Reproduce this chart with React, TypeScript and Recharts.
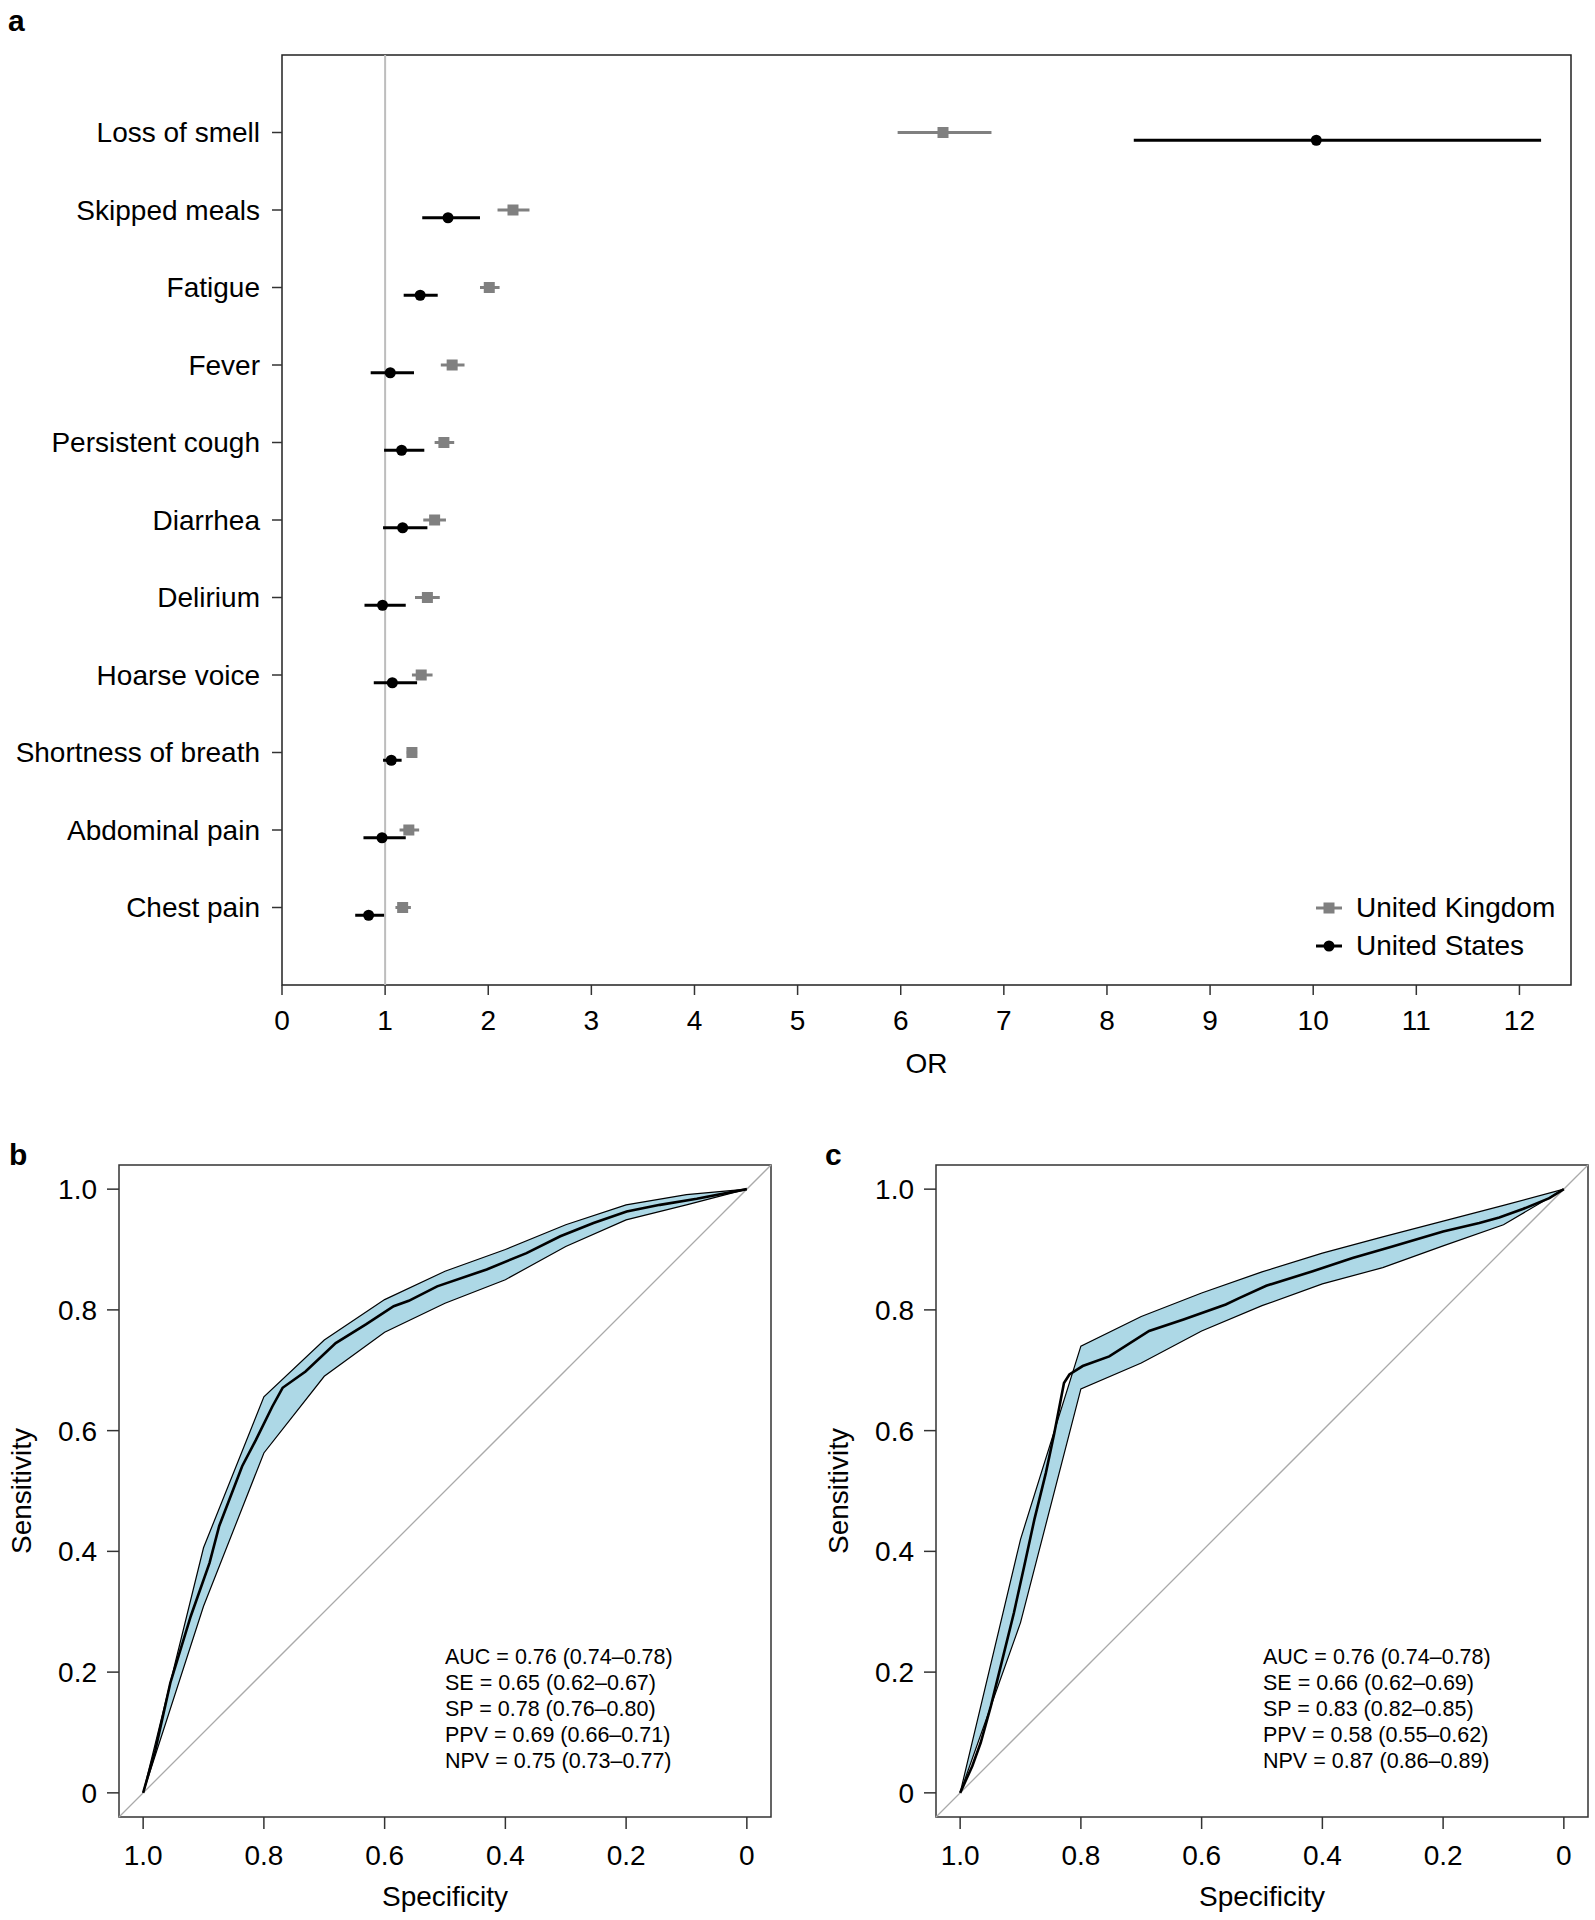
import React from "react";
import {
  ScatterChart,
  Scatter,
  ComposedChart,
  Area,
  Line,
  XAxis,
  YAxis,
  ErrorBar,
  ReferenceLine,
  ReferenceArea,
  Legend,
} from "recharts";

const FONT = '"Liberation Sans", Arial, Helvetica, sans-serif';

// ---- panel a: odds ratios per symptom ----
const symptoms = [
  "Loss of smell",
  "Skipped meals",
  "Fatigue",
  "Fever",
  "Persistent cough",
  "Diarrhea",
  "Delirium",
  "Hoarse voice",
  "Shortness of breath",
  "Abdominal pain",
  "Chest pain",
];

const ukOR = [6.41, 2.24, 2.01, 1.65, 1.57, 1.48, 1.41, 1.35, 1.26, 1.23, 1.17];
const ukLow = [5.97, 2.09, 1.92, 1.54, 1.48, 1.37, 1.29, 1.26, 1.21, 1.14, 1.1];
const ukHigh = [6.88, 2.4, 2.11, 1.77, 1.67, 1.59, 1.53, 1.46, 1.31, 1.33, 1.25];

const usOR = [10.03, 1.61, 1.34, 1.05, 1.16, 1.17, 0.975, 1.07, 1.06, 0.97, 0.84];
const usLow = [8.26, 1.36, 1.18, 0.86, 0.99, 0.98, 0.8, 0.89, 0.98, 0.79, 0.71];
const usHigh = [12.21, 1.92, 1.51, 1.28, 1.38, 1.41, 1.2, 1.31, 1.16, 1.2, 0.99];

const orTicks = [0, 1, 2, 3, 4, 5, 6, 7, 8, 9, 10, 11, 12];
const rowTicks = symptoms.map((_, i) => i + 1);
const US_SHIFT = 0.1; // US row drawn just under the UK row

// ---- panels b, c: ROC curves ----
const rocTicks = [0, 0.2, 0.4, 0.6, 0.8, 1.0];
const ciSpec = [1.0, 0.9, 0.8, 0.7, 0.6, 0.5, 0.4, 0.3, 0.2, 0.1, 0.0];

const bLow = [0, 0.309, 0.563, 0.69, 0.763, 0.811, 0.85, 0.905, 0.949, 0.974, 1];
const bHigh = [0, 0.406, 0.656, 0.75, 0.817, 0.864, 0.9, 0.941, 0.974, 0.991, 1];
const bSpec = [
  1.0, 0.98, 0.955, 0.921, 0.89, 0.874, 0.836, 0.813, 0.786, 0.769, 0.731, 0.681, 0.631,
  0.585, 0.56, 0.513, 0.431, 0.365, 0.309, 0.254, 0.199, 0.144, 0.083, 0.0,
];
const bSens = [
  0, 0.07, 0.182, 0.293, 0.381, 0.442, 0.541, 0.585, 0.64, 0.671, 0.698, 0.745, 0.776,
  0.806, 0.815, 0.839, 0.867, 0.894, 0.922, 0.944, 0.963, 0.974, 0.984, 1,
];
const bStats = [
  "AUC = 0.76 (0.74–0.78)",
  "SE = 0.65 (0.62–0.67)",
  "SP = 0.78 (0.76–0.80)",
  "PPV = 0.69 (0.66–0.71)",
  "NPV = 0.75 (0.73–0.77)",
];

const cLow = [0, 0.282, 0.669, 0.712, 0.765, 0.807, 0.843, 0.87, 0.906, 0.941, 1];
const cHigh = [0, 0.42, 0.74, 0.789, 0.828, 0.863, 0.894, 0.921, 0.947, 0.973, 1];
const cSpec = [
  1.0, 0.98, 0.966, 0.949, 0.93, 0.911, 0.894, 0.877, 0.858, 0.844, 0.828, 0.819, 0.797,
  0.753, 0.687, 0.63, 0.56, 0.537, 0.493, 0.416, 0.35, 0.284, 0.2, 0.14, 0.107, 0.068,
  0.024, 0.0,
];
const cSens = [
  0, 0.044, 0.083, 0.144, 0.221, 0.298, 0.375, 0.453, 0.53, 0.596, 0.679, 0.693, 0.707,
  0.723, 0.765, 0.784, 0.809, 0.82, 0.84, 0.864, 0.886, 0.905, 0.93, 0.944, 0.953, 0.967,
  0.985, 1,
];
const cStats = [
  "AUC = 0.76 (0.74–0.78)",
  "SE = 0.66 (0.62–0.69)",
  "SP = 0.83 (0.82–0.85)",
  "PPV = 0.58 (0.55–0.62)",
  "NPV = 0.87 (0.86–0.89)",
];

const UK_GREY = "#808080";

const Square = (p: any) => (
  <rect x={p.cx - 5.5} y={p.cy - 5.5} width={11} height={11} fill={UK_GREY} />
);
const Dot = (p: any) => <circle cx={p.cx} cy={p.cy} r={5.5} fill="#000" />;

function ForestLegend() {
  const rows = [
    { name: "United Kingdom", color: UK_GREY, square: true },
    { name: "United States", color: "#000", square: false },
  ];
  return (
    <div style={{ fontFamily: FONT, fontSize: 28, color: "#000" }}>
      {rows.map((r) => (
        <div key={r.name} style={{ display: "flex", alignItems: "center", height: 38 }}>
          <svg width={42} height={38}>
            <line x1={2} x2={28} y1={19} y2={19} stroke={r.color} strokeWidth={3} />
            {r.square ? (
              <rect x={9.5} y={13.5} width={11} height={11} fill={r.color} />
            ) : (
              <circle cx={15} cy={19} r={5.5} fill={r.color} />
            )}
          </svg>
          <span>{r.name}</span>
        </div>
      ))}
    </div>
  );
}

function ForestPlot() {
  const uk = symptoms.map((s, i) => ({
    name: s,
    or: ukOR[i],
    pos: i + 1,
    err: [ukOR[i] - ukLow[i], ukHigh[i] - ukOR[i]],
  }));
  const us = symptoms.map((s, i) => ({
    name: s,
    or: usOR[i],
    pos: i + 1 + US_SHIFT,
    err: [usOR[i] - usLow[i], usHigh[i] - usOR[i]],
  }));
  const tick = { fill: "#000", fontSize: 28, fontFamily: FONT };

  return (
    <ScatterChart width={1595} height={1100} margin={{ top: 55, right: 24, bottom: 0, left: 0 }}>
      <XAxis
        type="number"
        dataKey="or"
        domain={[0, 12.5]}
        ticks={orTicks}
        axisLine={false}
        tickLine={{ stroke: "#333", strokeWidth: 1.5 }}
        tickSize={10}
        tickMargin={15}
        tick={tick}
        height={115}
        label={{ value: "OR", position: "insideBottom", offset: 27, fill: "#000", fontSize: 28, fontFamily: FONT }}
      />
      <YAxis
        type="number"
        dataKey="pos"
        domain={[0, 12]}
        reversed
        ticks={rowTicks}
        tickFormatter={(v: number) => symptoms[v - 1] ?? ""}
        axisLine={false}
        tickLine={{ stroke: "#333", strokeWidth: 1.5 }}
        tickSize={10}
        tickMargin={12}
        tick={tick}
        width={282}
      />
      <ReferenceArea x1={0} x2={12.5} y1={0} y2={12} fill="none" stroke="#222" strokeWidth={1.5} />
      <ReferenceLine x={1} stroke="#bdbdbd" strokeWidth={2} />
      <Scatter name="United Kingdom" data={uk} shape={Square} isAnimationActive={false}>
        <ErrorBar dataKey="err" direction="x" width={0} stroke={UK_GREY} strokeWidth={3} />
      </Scatter>
      <Scatter name="United States" data={us} shape={Dot} isAnimationActive={false}>
        <ErrorBar dataKey="err" direction="x" width={0} stroke="#000" strokeWidth={3} />
      </Scatter>
      <Legend
        layout="vertical"
        align="center"
        verticalAlign="middle"
        content={() => <ForestLegend />}
        wrapperStyle={{ left: 1314, top: 889, width: "auto" }}
      />
    </ScatterChart>
  );
}

interface RocProps {
  spec: number[];
  sens: number[];
  low: number[];
  high: number[];
  width: number;
  axisWidth: number;
}

function RocPlot({ spec, sens, low, high, width, axisWidth }: RocProps) {
  const band = ciSpec.map((s, i) => ({ spec: s, band: [low[i], high[i]] }));
  const curve = spec.map((s, i) => ({ spec: s, sens: sens[i] }));
  const tick = { fill: "#000", fontSize: 28, fontFamily: FONT };
  const fmt = (v: number) => (v === 0 ? "0" : v.toFixed(1));

  return (
    <ComposedChart
      width={width}
      height={800}
      margin={{ top: 45, right: width - axisWidth - 652, bottom: 0, left: 0 }}
    >
      <XAxis
        type="number"
        dataKey="spec"
        domain={[-0.04, 1.04]}
        reversed
        ticks={rocTicks}
        tickFormatter={fmt}
        axisLine={false}
        tickLine={{ stroke: "#333", strokeWidth: 1.5 }}
        tickSize={12}
        tickMargin={16}
        tick={tick}
        height={103}
        label={{ value: "Specificity", position: "insideBottom", offset: 14, fill: "#000", fontSize: 28, fontFamily: FONT }}
      />
      <YAxis
        type="number"
        domain={[-0.04, 1.04]}
        ticks={rocTicks}
        tickFormatter={fmt}
        axisLine={false}
        tickLine={{ stroke: "#333", strokeWidth: 1.5 }}
        tickSize={12}
        tickMargin={10}
        tick={tick}
        width={axisWidth}
        label={{
          value: "Sensitivity",
          angle: -90,
          position: "insideLeft",
          offset: axisWidth - 98,
          fill: "#000",
          fontSize: 28,
          fontFamily: FONT,
          style: { textAnchor: "middle" },
        }}
      />
      <ReferenceLine
        segment={[
          { x: 1.04, y: -0.04 },
          { x: -0.04, y: 1.04 },
        ]}
        stroke="#aaaaaa"
        strokeWidth={1.3}
      />
      <Area
        data={band}
        dataKey="band"
        type="linear"
        fill="#add8e6"
        fillOpacity={1}
        stroke="#000"
        strokeWidth={1.2}
        isAnimationActive={false}
      />
      <Line
        data={curve}
        dataKey="sens"
        type="linear"
        stroke="#000"
        strokeWidth={2.6}
        dot={false}
        isAnimationActive={false}
      />
      <ReferenceArea x1={-0.04} x2={1.04} y1={-0.04} y2={1.04} fill="none" stroke="#333" strokeWidth={1.5} />
    </ComposedChart>
  );
}

function Stats({ lines, left }: { lines: string[]; left: number }) {
  return (
    <div
      style={{
        position: "absolute",
        left,
        top: 1644,
        fontFamily: FONT,
        fontSize: 21.5,
        lineHeight: "26px",
        color: "#000",
        whiteSpace: "nowrap",
      }}
    >
      {lines.map((l) => (
        <div key={l}>{l}</div>
      ))}
    </div>
  );
}

const letter = (txt: string, left: number, top: number) => (
  <div
    style={{
      position: "absolute",
      left,
      top,
      fontFamily: FONT,
      fontWeight: 700,
      fontSize: 30,
      lineHeight: 1,
      color: "#000",
    }}
  >
    {txt}
  </div>
);

export default function App() {
  return (
    <div
      style={{
        position: "absolute",
        left: 0,
        top: 0,
        width: 1595,
        height: 1920,
        background: "#fff",
        fontFamily: FONT,
      }}
    >
      <div style={{ position: "absolute", left: 0, top: 0 }}>
        <ForestPlot />
      </div>
      <div style={{ position: "absolute", left: 0, top: 1120 }}>
        <RocPlot spec={bSpec} sens={bSens} low={bLow} high={bHigh} width={800} axisWidth={119} />
      </div>
      <div style={{ position: "absolute", left: 800, top: 1120 }}>
        <RocPlot spec={cSpec} sens={cSens} low={cLow} high={cHigh} width={795} axisWidth={136} />
      </div>
      <Stats lines={bStats} left={445} />
      <Stats lines={cStats} left={1263} />
      {letter("a", 8, 6)}
      {letter("b", 9, 1140)}
      {letter("c", 825, 1140)}
    </div>
  );
}
